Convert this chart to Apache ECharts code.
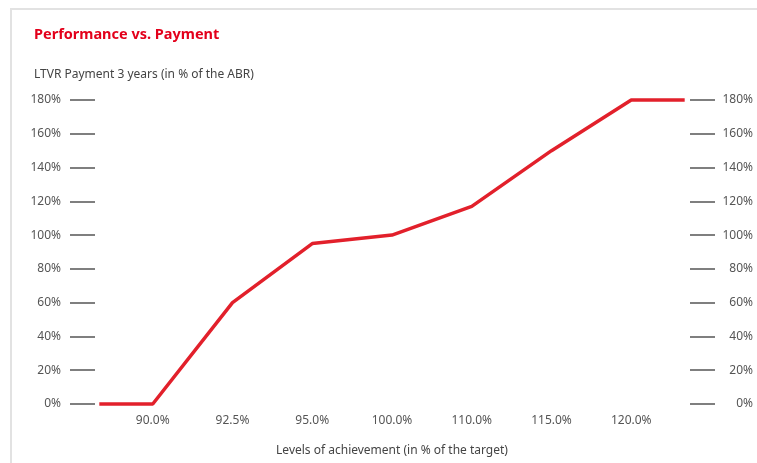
<!DOCTYPE html>
<html>
<head>
<meta charset="utf-8">
<script src="https://cdn.jsdelivr.net/npm/echarts@6/dist/echarts.min.js"></script>
<style>
html,body{margin:0;padding:0;background:#fff;}
#frame{position:absolute;left:10px;top:8px;width:800px;height:500px;border-top:2px solid #e2e2e2;border-left:2px solid #e2e2e2;}
#chart{position:absolute;left:0;top:0;width:757px;height:463px;}
</style>
</head>
<body>
<div id="frame"></div>
<div id="chart"></div>
<script>
// levels of achievement (tick labels), position index on the x axis
const levels=["90.0%","92.5%","95.0%","100.0%","110.0%","115.0%","120.0%"];
// line points: x = index into levels (with lead-in / run-out), y = payment %
const pointX=[-0.67,0,1,2,3,4,5,6,6.67];
const payment=[0,0,60,95,100,117,150,180,180];
const yTicks={min:0,max:180,step:20};

const chart=echarts.init(document.querySelector("#chart"),null,{renderer:"canvas"});
const font='"Noto Sans", "Open Sans", sans-serif';
const txt="#555";

const yAxisBase={
  type:"value",min:yTicks.min,max:yTicks.max,interval:yTicks.step,
  splitLine:{show:false},
  axisLine:{show:false,onZero:false},
  axisTick:{show:true,length:25,lineStyle:{color:"#555",width:1.5}},
  axisLabel:{color:txt,fontSize:12,fontFamily:font,formatter:"{value}%"}
};

chart.setOption({
  animation:false,
  title:[
    {text:"Performance vs. Payment",left:29,top:22,
     textStyle:{color:"#e3001b",fontSize:14.5,fontWeight:"bold",fontFamily:font}},
    {text:"LTVR Payment 3 years (in % of the ABR)",left:29,top:64,
     textStyle:{color:"#444",fontSize:12,fontWeight:"normal",fontFamily:font}}
  ],
  grid:{left:73,right:46,top:100,bottom:59},
  xAxis:{
    type:"value",min:-1,max:7,interval:1,
    splitLine:{show:false},axisLine:{show:false},axisTick:{show:false},
    axisLabel:{color:txt,fontSize:12,fontFamily:font,margin:11,
      formatter:v=>levels[v]||""},
    name:"Levels of achievement (in % of the target)",
    nameLocation:"middle",nameGap:41,
    nameTextStyle:{color:"#444",fontSize:12,fontFamily:font}
  },
  yAxis:[
    Object.assign({},yAxisBase,{position:"left",offset:3,
      axisTick:Object.assign({},yAxisBase.axisTick,{inside:true}),
      axisLabel:Object.assign({},yAxisBase.axisLabel,{margin:9,align:"right"})}),
    Object.assign({},yAxisBase,{position:"right",offset:-21,
      axisLabel:Object.assign({},yAxisBase.axisLabel,{margin:63,align:"right"})})
  ],
  series:[{
    type:"line",
    data:pointX.map((x,i)=>[x,payment[i]]),
    symbol:"none",
    lineStyle:{color:"#e2202b",width:3.5},
    clip:false
  }]
});
</script>
</body>
</html>
